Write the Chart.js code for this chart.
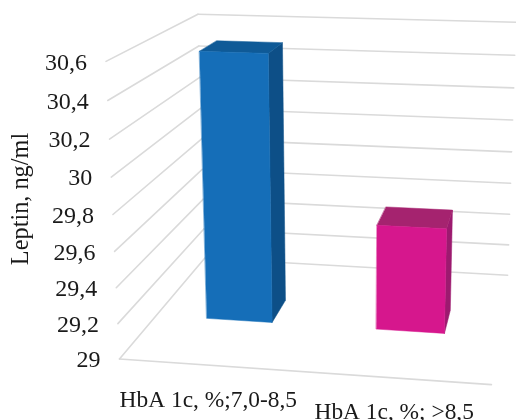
<!DOCTYPE html>
<html>
<head>
<meta charset="utf-8">
<style>
  html, body { margin: 0; padding: 0; background: #fff; }
  canvas { display: block; }
</style>
<script src="https://cdn.jsdelivr.net/npm/chart.js@4"></script>
</head>
<body>
<canvas id="bar_chart" width="516" height="420"></canvas>
<script>
const categories = ['HbA 1c, %;7,0-8,5', 'HbA 1c, %; >8,5'];
const leptin = [30.55, 29.61];
const axisTitle = 'Leptin, ng/ml';
const yMin = 29;
const yMax = 30.6;
const yStep = 0.2;

const frontColors = ['#156EB8', '#D6178D'];
const topColors = ['#0F5A97', '#A5236F'];
const sideColors = ['#0D4F87', '#9C1A6F'];
const gridColor = '#DADADA';
const textColor = '#1A1A1A';
const textFont = '"Liberation Serif", serif';

// where the corners of the 3d box land on screen: [u, v, w, x, y]
// u = along categories, v = up the value axis, w = depth (0 front, 1 back)
const boxCorners = [
    [0, 0, 0, 118, 359],
    [0, 1, 0, 107, 62],
    [0, 0, 1, 206, 258],
    [0, 1, 1, 197, 14],
    [1, 0, 1, 507, 276],
    [1, 1, 1, 516, 22],
    [1, 0, 0, 492, 384]
];
const barDepth = [0.385, 0.6];
const labelDrop = [36, 35];

function solve(m, r) {
    const n = r.length;
    for (let i = 0; i < n; i++) {
        let best = i;
        for (let k = i + 1; k < n; k++) {
            if (Math.abs(m[k][i]) > Math.abs(m[best][i])) best = k;
        }
        [m[i], m[best]] = [m[best], m[i]];
        [r[i], r[best]] = [r[best], r[i]];
        for (let k = i + 1; k < n; k++) {
            const f = m[k][i] / m[i][i];
            for (let j = i; j < n; j++) m[k][j] -= f * m[i][j];
            r[k] -= f * r[i];
        }
    }
    const out = new Array(n).fill(0);
    for (let i = n - 1; i >= 0; i--) {
        let s = r[i];
        for (let j = i + 1; j < n; j++) s -= m[i][j] * out[j];
        out[i] = s / m[i][i];
    }
    return out;
}

// least squares fit of the projective map from the corners above
function fitProjection(corners) {
    const rows = [], rhs = [];
    corners.forEach(function (c) {
        const [u, v, w, x, y] = c;
        rows.push([1, u, v, w, 0, 0, 0, 0, -x * u, -x * v, -x * w]);
        rhs.push(x);
        rows.push([0, 0, 0, 0, 1, u, v, w, -y * u, -y * v, -y * w]);
        rhs.push(y);
    });
    const ata = [], atb = [];
    for (let i = 0; i < 11; i++) {
        ata.push(new Array(11).fill(0));
        atb.push(0);
        rows.forEach(function (row, k) {
            for (let j = 0; j < 11; j++) ata[i][j] += row[i] * row[j];
            atb[i] += row[i] * rhs[k];
        });
    }
    return solve(ata, atb);
}

const p = fitProjection(boxCorners);

function project(u, v, w) {
    const d = 1 + p[8] * u + p[9] * v + p[10] * w;
    return {
        x: (p[0] + p[1] * u + p[2] * v + p[3] * w) / d,
        y: (p[4] + p[5] * u + p[6] * v + p[7] * w) / d
    };
}

function line(ctx, a, b) {
    ctx.beginPath();
    ctx.moveTo(a.x, a.y);
    ctx.lineTo(b.x, b.y);
    ctx.stroke();
}

function face(ctx, pts, color) {
    ctx.fillStyle = color;
    ctx.strokeStyle = color;
    ctx.lineWidth = 0.5;
    ctx.beginPath();
    pts.forEach(function (q, i) {
        if (i === 0) ctx.moveTo(q.x, q.y); else ctx.lineTo(q.x, q.y);
    });
    ctx.closePath();
    ctx.fill();
    ctx.stroke();
}

const perspectivePlugin = {
    id: 'perspective',
    beforeDatasetsDraw: function (chart) {
        const ctx = chart.ctx;
        const area = chart.chartArea;
        const yScale = chart.scales.y;
        const toV = function (px) { return (area.bottom - px) / (area.bottom - area.top); };
        const toU = function (px) { return (px - area.left) / (area.right - area.left); };

        ctx.save();
        ctx.lineCap = 'round';
        ctx.strokeStyle = gridColor;
        ctx.lineWidth = 1.6;

        // walls, one line per tick from the scale
        yScale.ticks.forEach(function (t) {
            const v = toV(yScale.getPixelForValue(t.value));
            line(ctx, project(0, v, 0), project(0, v, 1));
            line(ctx, project(0, v, 1), project(1, v, 1));
        });
        line(ctx, project(0, 0, 0), project(1, 0, 0));

        // tick labels follow the slanted front edge
        ctx.fillStyle = textColor;
        ctx.font = '24px ' + textFont;
        ctx.textAlign = 'right';
        ctx.textBaseline = 'middle';
        yScale.ticks.forEach(function (t) {
            const q = project(0, toV(yScale.getPixelForValue(t.value)), 0);
            ctx.fillText(t.label, q.x - 19, q.y + 2);
        });

        // bars
        const [w0, w1] = barDepth;
        chart.getDatasetMeta(0).data.forEach(function (bar, i) {
            const u0 = toU(bar.x - bar.width / 2);
            const u1 = toU(bar.x + bar.width / 2);
            const v0 = toV(bar.base);
            const v1 = toV(bar.y);
            face(ctx, [project(u1, v0, w0), project(u1, v0, w1), project(u1, v1, w1), project(u1, v1, w0)], sideColors[i]);
            face(ctx, [project(u0, v1, w0), project(u1, v1, w0), project(u1, v1, w1), project(u0, v1, w1)], topColors[i]);
            face(ctx, [project(u0, v0, w0), project(u1, v0, w0), project(u1, v1, w0), project(u0, v1, w0)], bar.options.backgroundColor);
        });

        // category labels
        ctx.fillStyle = textColor;
        ctx.font = '23.4px ' + textFont;
        ctx.textAlign = 'center';
        chart.getDatasetMeta(0).data.forEach(function (bar, i) {
            const q = project(toU(bar.x), 0, 0);
            ctx.fillText(categories[i], q.x - 1, q.y + labelDrop[i]);
        });

        // axis title
        ctx.font = '24.3px ' + textFont;
        ctx.translate(22, 199);
        ctx.rotate(-Math.PI / 2);
        ctx.fillText(axisTitle, 0, 0);
        ctx.restore();

        return false; // the default flat bars are not wanted
    }
};

new Chart(document.getElementById('bar_chart').getContext('2d'), {
    type: 'bar',
    data: {
        labels: categories,
        datasets: [{
            data: leptin,
            base: yMin,
            backgroundColor: frontColors,
            categoryPercentage: 0.39,
            barPercentage: 1
        }]
    },
    options: {
        responsive: false,
        animation: false,
        plugins: { legend: { display: false }, tooltip: { enabled: false } },
        scales: {
            x: { display: false },
            y: {
                display: false,
                min: yMin,
                max: yMax,
                ticks: {
                    stepSize: yStep,
                    callback: function (value) {
                        return String(+value.toFixed(1)).replace('.', ',');
                    }
                }
            }
        }
    },
    plugins: [perspectivePlugin]
});
</script>
</body>
</html>
